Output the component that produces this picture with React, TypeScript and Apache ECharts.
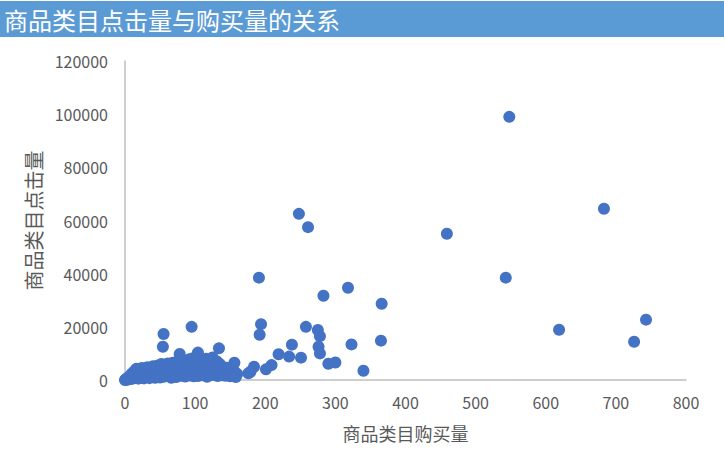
import React, { useEffect, useRef } from 'react';
import * as echarts from 'echarts';

// 商品类目购买量 / 点击量 — dense cluster near the origin
const clusterPoints: [number, number][] = [
  [0, 0], [1, 200], [2, 500], [3, 100], [4, 800], [5, 300], [6, 1200], [7, 600], [8, 1800], [9, 400],
  [10, 2500], [11, 900], [12, 1500], [13, 3200], [14, 700], [15, 2100], [16, 4200], [17, 1100], [18, 2800], [19, 500],
  [20, 3600], [21, 1700], [22, 900], [23, 2400], [24, 4500], [25, 1300], [26, 3000], [27, 600], [28, 2000], [29, 3800],
  [30, 1000], [31, 2600], [32, 4800], [33, 1500], [34, 3300], [35, 700], [36, 2200], [37, 4000], [38, 1200], [39, 2900],
  [40, 5200], [41, 1800], [42, 3500], [43, 800], [44, 2500], [45, 4300], [46, 1400], [47, 5500], [48, 3100], [49, 2000],
  [50, 900], [51, 3900], [52, 6000], [53, 2300], [54, 4600], [55, 1200], [56, 3300], [57, 5400], [58, 1900], [59, 2800],
  [60, 4100], [61, 6200], [62, 1500], [63, 3600], [64, 2400], [65, 5000], [66, 800], [67, 3000], [68, 6500], [69, 1800],
  [70, 4400], [71, 2600], [72, 5600], [73, 1100], [74, 3700], [75, 7000], [76, 2100], [77, 4900], [78, 3200], [80, 6100],
  [81, 1600], [82, 3900], [83, 7400], [84, 2700], [85, 5200], [86, 1300], [88, 4300], [89, 6600], [90, 2200], [91, 3500],
  [92, 7800], [93, 1700], [94, 5800], [95, 2900], [96, 4000], [97, 8200], [98, 1400], [99, 6400], [100, 3300], [101, 2000],
  [102, 5100], [103, 7200], [104, 1500], [105, 3800], [106, 8600], [107, 2500], [108, 4600], [109, 6900], [110, 1800], [111, 3100],
  [112, 5500], [113, 7600], [114, 2300], [115, 4200], [116, 8000], [117, 1200], [118, 6200], [119, 3600], [120, 2600], [121, 5000],
  [122, 7300], [123, 1900], [124, 4400], [125, 8500], [126, 3000], [127, 6700], [128, 2100], [129, 5400], [130, 3800], [131, 7000],
  [132, 1500], [133, 4700], [134, 2700], [135, 6000], [136, 3400], [137, 1800], [138, 5200], [139, 2400], [140, 4100], [142, 3000],
  [143, 1600], [145, 4600], [146, 2200], [148, 3500], [150, 1400], [152, 2800], [154, 1900], [156, 3200], [158, 1100], [160, 2300],
  [176, 2500],
];

// scattered categories away from the cluster
const outlierPoints: [number, number][] = [
  [548, 99000], [683, 64400], [459, 55000], [543, 38500], [619, 18900], [743, 22700], [726, 14400],
  [248, 62500], [261, 57500], [191, 38500], [283, 31700], [318, 34700], [366, 28700],
  [95, 20000], [194, 21000], [192, 17000], [258, 20000], [275, 18800], [278, 16500], [276, 12500],
  [278, 10000], [323, 13400], [365, 14800], [238, 13300], [219, 9700], [234, 8800], [251, 8400],
  [290, 6100], [300, 6600], [340, 3500], [209, 5600], [201, 4000], [184, 5000], [179, 3100],
  [134, 11900], [156, 6500], [104, 10300], [78, 9800], [55, 17300], [54, 12500],
];

const titleText = '商品类目点击量与购买量的关系';
const xName = '商品类目购买量';
const yName = '商品类目点击量';

export default function App() {
  const chartRef = useRef<HTMLDivElement>(null);

  useEffect(() => {
    if (!chartRef.current) return;
    const chart = echarts.init(chartRef.current, undefined, { renderer: 'svg' });

    const font = "'Noto Sans CJK SC', 'Noto Sans', sans-serif";
    const option: echarts.EChartsOption = {
      animation: false,
      backgroundColor: '#ffffff',
      graphic: [
        {
          type: 'rect',
          shape: { x: 0, y: 1, width: 724, height: 36 },
          style: { fill: '#5b9bd5' },
          z: -1
        }
      ],
      title: {
        text: titleText,
        left: 4,
        top: 7,
        padding: 0,
        textStyle: { color: '#ffffff', fontSize: 24, fontWeight: 'normal', fontFamily: font }
      },
      grid: { left: 125, right: 38, top: 61, bottom: 79 },
      xAxis: {
        type: 'value',
        min: 0,
        max: 800,
        interval: 100,
        name: xName,
        nameLocation: 'middle',
        nameGap: 44,
        nameTextStyle: { color: '#595959', fontSize: 18, fontFamily: font },
        axisLine: { show: true, lineStyle: { color: '#bfbfbf', width: 1.5 } },
        axisTick: { show: false },
        splitLine: { show: false },
        axisLabel: { color: '#595959', fontSize: 16, margin: 14, fontFamily: font, formatter: (v: number) => String(v) }
      },
      yAxis: {
        type: 'value',
        min: 0,
        max: 120000,
        interval: 20000,
        name: yName,
        nameLocation: 'middle',
        nameGap: 80,
        nameTextStyle: { color: '#595959', fontSize: 20, fontFamily: font },
        axisLine: { show: true, lineStyle: { color: '#bfbfbf', width: 1.5 } },
        axisTick: { show: false },
        splitLine: { show: false },
        axisLabel: { color: '#595959', fontSize: 16, margin: 17, fontFamily: font, formatter: (v: number) => String(v) }
      },
      series: [
        {
          type: 'scatter',
          data: [...clusterPoints, ...outlierPoints],
          symbolSize: 12,
          itemStyle: { color: '#4472c4', opacity: 1 }
        }
      ]
    };

    chart.setOption(option);
    return () => chart.dispose();
  }, []);

  return (
    <div
      ref={chartRef}
      style={{ position: 'fixed', left: 0, top: 0, width: 724, height: 459 }}
    />
  );
}
